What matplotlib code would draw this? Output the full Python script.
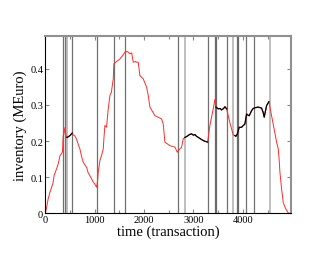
import numpy as np
import matplotlib
matplotlib.use("Agg")
import matplotlib.pyplot as plt
from matplotlib.ticker import MultipleLocator

time = [0, 20, 60, 100, 130, 160, 180, 230, 260, 300, 330, 350, 364, 380, 399, 420, 440,
        470, 500, 520, 547, 560, 600, 635, 670, 702, 740, 770, 800, 838, 870, 905, 940, 972,
        1000, 1040, 1060, 1073, 1107, 1140, 1175, 1190, 1208, 1242, 1276, 1310, 1340, 1377,
        1391, 1444, 1512, 1560, 1613, 1660, 1714, 1750, 1782, 1830, 1850, 1883, 1917, 1984,
        2052, 2086, 2119, 2221, 2300, 2356, 2389, 2423, 2524, 2626, 2672, 2713, 2761, 2794,
        2828, 2870, 2920, 2963, 3000, 3030, 3064, 3100, 3166, 3220, 3287, 3334, 3401, 3435,
        3456, 3503, 3540, 3570, 3610, 3638, 3672, 3705, 3740, 3773, 3806, 3840, 3860, 3890,
        3927, 3975, 4010, 4042, 4076, 4100, 4130, 4177, 4210, 4245, 4312, 4380, 4410, 4433,
        4481, 4528, 4583, 4650, 4684, 4717, 4735, 4751, 4785, 4818, 4850, 4872, 4919, 4950]
inventory = [0.0, 0.01, 0.04, 0.06, 0.072, 0.085, 0.105, 0.123, 0.135, 0.16, 0.165, 0.17,
             0.215, 0.22, 0.237, 0.215, 0.21,
             0.212, 0.215, 0.218, 0.222, 0.218, 0.214, 0.205, 0.19, 0.178, 0.155, 0.141,
             0.135, 0.127, 0.112, 0.104, 0.095, 0.086,
             0.082, 0.072, 0.09, 0.113, 0.146, 0.16, 0.178, 0.21, 0.243, 0.238, 0.289, 0.326,
             0.335, 0.372, 0.414, 0.42, 0.427, 0.435, 0.446, 0.448, 0.441, 0.444, 0.418, 0.42,
             0.418, 0.418, 0.381, 0.372,
             0.349, 0.326, 0.294, 0.27, 0.265, 0.261, 0.247, 0.197, 0.187, 0.183, 0.169, 0.176,
             0.183, 0.206,
             0.21, 0.213, 0.218, 0.22, 0.216, 0.218, 0.213, 0.21, 0.204, 0.2, 0.197, 0.243,
             0.289, 0.315,
             0.294, 0.289, 0.29, 0.286, 0.29, 0.295, 0.289, 0.27, 0.25, 0.233, 0.217, 0.215,
             0.213, 0.22,
             0.238, 0.238, 0.243, 0.247, 0.275, 0.272, 0.27, 0.284, 0.29, 0.292, 0.294, 0.291,
             0.28, 0.266,
             0.298, 0.309, 0.27, 0.224, 0.197, 0.178, 0.15, 0.114, 0.067, 0.03, 0.018, 0.012,
             0.001, 0.0]
black_ranges = [(440, 547), (2828, 3287), (3456, 3672), (3840, 4528)]
dark_lines = [366, 399, 547, 1047, 1385, 1613, 2692, 3287, 3672, 4060, 4231]
thick_lines = [3449, 3895]
light_lines = [439, 2828, 3800, 4543]

plt.rcParams['font.family'] = ['Liberation Serif', 'DejaVu Serif']

fig = plt.figure(figsize=(3.3, 2.55), dpi=100)
ax = fig.add_axes([0.137, 0.1596, 0.744, 0.6944])

for x in light_lines:
    ax.axvline(x, color='#b4b4b4', lw=1.2, zorder=1)
for x in dark_lines:
    ax.axvline(x, color='#707070', lw=0.9, zorder=1)
for x in thick_lines:
    ax.axvline(x, color='#6a6a6a', lw=1.6, zorder=1)

t = np.array(time)
v = np.array(inventory)
ax.plot(t, v, color='#ff2a2a', lw=0.7, zorder=2)
for a, b in black_ranges:
    m = (t >= a) & (t <= b)
    ax.plot(t[m], v[m], color='black', lw=0.9, zorder=3)

ax.set_xlim(0, 4970)
ax.set_ylim(0, 0.49)
ax.xaxis.set_major_locator(MultipleLocator(1000))
ax.xaxis.set_minor_locator(MultipleLocator(500))
ax.set_yticks([0, 0.1, 0.2, 0.3, 0.4])
ax.set_yticklabels(['0', '0.1', '0.2', '0.3', '0.4'])
ax.tick_params(which='both', direction='in', top=True, right=True, labelsize=7.5,
               color='#888888', pad=1.5)
ax.tick_params(which='major', length=3, width=0.8)
ax.tick_params(which='minor', length=2, width=0.8)
for s in ['left', 'bottom']:
    ax.spines[s].set_color('black')
    ax.spines[s].set_linewidth(0.8)
for s in ['top', 'right']:
    ax.spines[s].set_color('#909090')
    ax.spines[s].set_linewidth(1.5)

ax.set_xlabel('time (transaction)', fontsize=10.5, labelpad=0)
ax.set_ylabel('inventory (MEuro)', fontsize=10.5, labelpad=2)

fig.savefig('out.png', dpi=100)
